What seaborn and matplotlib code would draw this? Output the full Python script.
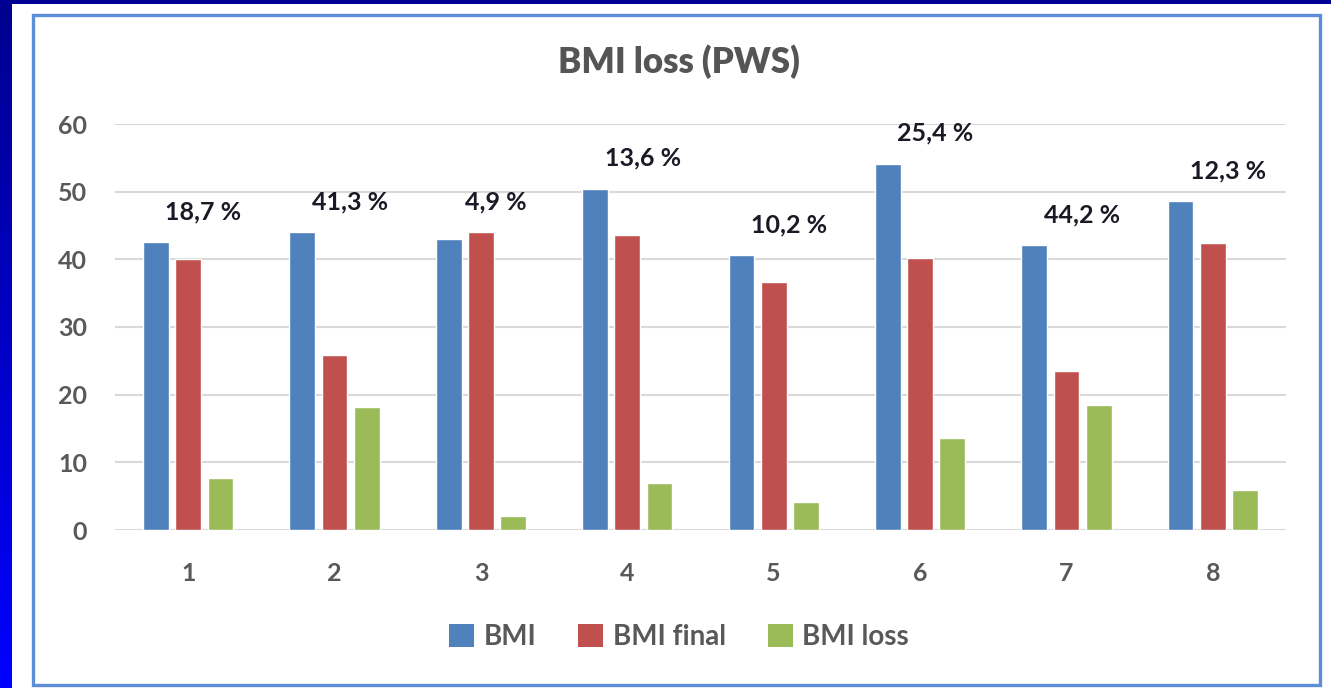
import numpy as np
import pandas as pd
import matplotlib
matplotlib.use("Agg")
import matplotlib.pyplot as plt
import seaborn as sns
from matplotlib.patches import Rectangle, Patch
from matplotlib.colors import LinearSegmentedColormap

# ---- data ----
patients = ["1", "2", "3", "4", "5", "6", "7", "8"]
bmi = [42.5, 44.0, 43.0, 50.4, 40.6, 54.1, 42.1, 48.6]
bmi_final = [40.0, 25.9, 44.0, 43.6, 36.6, 40.2, 23.5, 42.4]
bmi_loss = [7.7, 18.2, 2.1, 6.9, 4.1, 13.6, 18.5, 5.9]
pct_labels = ["18,7 %", "41,3 %", "4,9 %", "13,6 %", "10,2 %", "25,4 %", "44,2 %", "12,3 %"]
series_names = ["BMI", "BMI final", "BMI loss"]
title = "BMI loss (PWS)"

colors = ["#4f81bd", "#c0504d", "#9bbb59"]

df = pd.DataFrame({
    "patient": patients * 3,
    "value": bmi + bmi_final + bmi_loss,
    "series": [series_names[0]] * 8 + [series_names[1]] * 8 + [series_names[2]] * 8,
})

sns.set_theme(style="white")
plt.rcParams["font.family"] = ["Lato", "DejaVu Sans"]

W, H = 1331, 688
fig = plt.figure(figsize=(W / 100, H / 100), dpi=100)
fig.patch.set_facecolor("white")

# background: blue strip on left with gradient, navy strip on top
bg = fig.add_axes([0, 0, 12 / W, 1])
grad = np.linspace(0, 1, 256).reshape(-1, 1)
cmap = LinearSegmentedColormap.from_list("b", ["#00008e", "#0000ff"])
bg.imshow(grad, aspect="auto", cmap=cmap, extent=[0, 1, 0, 1], origin="upper")
bg.set_axis_off()
fig.patches.append(Rectangle((0, 1 - 4 / H), 1, 4 / H, transform=fig.transFigure,
                             facecolor="#000094", edgecolor="none", zorder=0))

# chart frame
fig.patches.append(Rectangle((33 / W, 1 - 685 / H), (1320 - 33) / W, (685 - 15) / H,
                             transform=fig.transFigure, facecolor="none",
                             edgecolor="#5b8ed6", linewidth=2.4, zorder=1))

ax = fig.add_axes([115 / W, 1 - 530 / H, (1286 - 115) / W, (530 - 124) / H])
sns.barplot(data=df, x="patient", y="value", hue="series", palette=colors,
            width=0.66, gap=0.2, ax=ax, legend=False, saturation=1, errorbar=None,
            zorder=3)

ax.set_ylim(0, 60)
ax.set_xlim(-0.5, 7.5)
ax.set_yticks(range(0, 61, 10))
ax.yaxis.grid(True, color="#d9d9d9", linewidth=1.5, zorder=0)
ax.set_axisbelow(True)
for s in ax.spines.values():
    s.set_visible(False)
ax.set_xlabel("")
ax.set_ylabel("")
ax.tick_params(axis="y", length=0, pad=20, labelsize=18, labelcolor="#595959")
ax.tick_params(axis="x", length=0, pad=23, labelsize=18, labelcolor="#595959")
for lbl in ax.get_xticklabels() + ax.get_yticklabels():
    lbl.set_fontweight("bold")

# percentage labels above each group
for i, lab in enumerate(pct_labels):
    top = max(bmi[i], bmi_final[i], bmi_loss[i])
    ax.annotate(lab, xy=(i, top), xytext=(11, 22), textcoords="offset points",
                ha="center", va="center", fontsize=18, fontweight="bold",
                color="#1a1a26", zorder=5)

fig.text(679 / W, 1 - 62 / H, title, ha="center", va="center",
         fontsize=25, fontweight="heavy", color="#555555")

handles = [Patch(facecolor=c, edgecolor="none") for c in colors]
leg = fig.legend(handles, series_names, loc="center", bbox_to_anchor=(679 / W, 1 - 637 / H),
                 ncol=3, frameon=False, fontsize=20, handlelength=0.9, handleheight=0.9,
                 handletextpad=0.35, columnspacing=1.5)
for t in leg.get_texts():
    t.set_color("#595959")
    t.set_fontweight("bold")

fig.savefig("out.png", dpi=100)
